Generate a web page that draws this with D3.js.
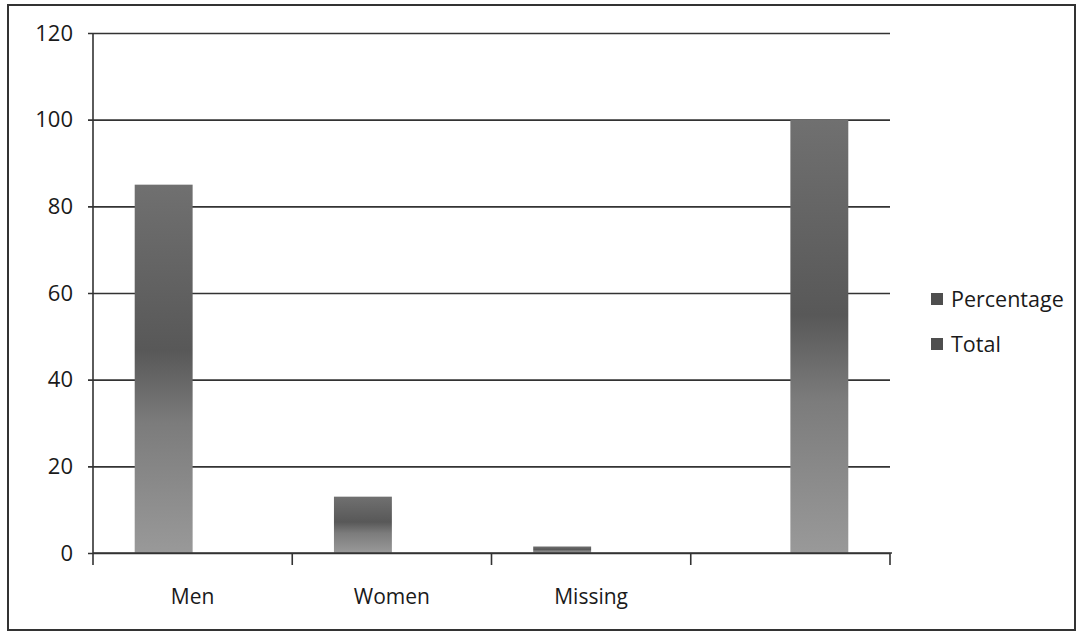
<!DOCTYPE html>
<html>
<head>
    <meta charset="utf-8">
    <script src="https://d3js.org/d3.v7.min.js"></script>
    <style>
        body, html { margin: 0; padding: 0; background: #fff; }
        svg { display: block; }
        text { font-family: "Open Sans", sans-serif; fill: #1a1a1a; }
    </style>
</head>
<body>
    <svg width="1080" height="636"></svg>
    <script>
        // chart data
        const categories = ["Men", "Women", "Missing", ""];
        const seriesNames = ["Percentage", "Total"];
        const percentage = [85, 13, 1.5, null];
        const total = [null, null, null, 100];
        const yTicks = [0, 20, 40, 60, 80, 100, 120];

        const svg = d3.select("svg");
        const margin = {left: 93, right: 190, top: 33, bottom: 83};
        const width = 1080 - margin.left - margin.right;
        const height = 636 - margin.top - margin.bottom;

        // scanned-paper look: gray bars darker in the middle
        const defs = svg.append("defs");
        const grad = defs.append("linearGradient")
            .attr("id", "barFill")
            .attr("x1", 0).attr("y1", 0).attr("x2", 0).attr("y2", 1);
        grad.append("stop").attr("offset", "0%").attr("stop-color", "#707070");
        grad.append("stop").attr("offset", "45%").attr("stop-color", "#585858");
        grad.append("stop").attr("offset", "65%").attr("stop-color", "#7c7c7c");
        grad.append("stop").attr("offset", "100%").attr("stop-color", "#999");

        // outer frame
        svg.append("rect")
            .attr("x", 8).attr("y", 5)
            .attr("width", 1067).attr("height", 625)
            .attr("fill", "none")
            .attr("stroke", "#333")
            .attr("stroke-width", 2);

        const g = svg.append("g").attr("transform", `translate(${margin.left},${margin.top})`);

        const x = d3.scaleBand().domain(d3.range(categories.length)).range([0, width]);
        const xSeries = d3.scaleBand().domain(seriesNames).range([0, x.bandwidth()])
            .paddingInner(0).paddingOuter(0.72);
        const y = d3.scaleLinear().domain([0, 120]).range([height, 0]);

        // gridlines + y axis
        const yAxis = g.append("g")
            .call(d3.axisLeft(y).tickValues(yTicks).tickSize(-width).tickPadding(20).tickSizeOuter(0));
        yAxis.select(".domain").remove();
        yAxis.selectAll("line").attr("stroke", "#333").attr("stroke-width", 1.6).attr("x1", -5);
        yAxis.selectAll("text").attr("font-size", 22).attr("font-family", "Open Sans, sans-serif").attr("fill", "#1a1a1a");

        g.append("line")
            .attr("x1", 0).attr("x2", 0).attr("y1", 0).attr("y2", height)
            .attr("stroke", "#333").attr("stroke-width", 1.6);

        // bars
        const rows = categories.map((c, i) => ({i, values: [percentage[i], total[i]]}));
        g.selectAll(".cat")
            .data(rows)
            .join("g")
            .attr("transform", d => `translate(${x(d.i)},0)`)
            .selectAll("rect")
            .data(d => d.values.map((v, k) => ({key: seriesNames[k], v})).filter(e => e.v != null))
            .join("rect")
            .attr("x", d => xSeries(d.key))
            .attr("width", xSeries.bandwidth())
            .attr("y", d => y(d.v))
            .attr("height", d => y(0) - y(d.v))
            .attr("fill", "url(#barFill)");

        // x axis
        const xAxis = g.append("g").attr("transform", `translate(0,${height})`);
        xAxis.append("line").attr("x1", 0).attr("x2", width + 2)
            .attr("stroke", "#333").attr("stroke-width", 1.6);
        xAxis.selectAll(".tick")
            .data(d3.range(categories.length + 1))
            .join("line")
            .attr("x1", d => d * x.step()).attr("x2", d => d * x.step())
            .attr("y1", 0).attr("y2", 12)
            .attr("stroke", "#333").attr("stroke-width", 1.6);
        xAxis.selectAll(".lbl")
            .data(categories)
            .join("text")
            .attr("x", (d, i) => x(i) + x.bandwidth() / 2)
            .attr("y", 51)
            .attr("text-anchor", "middle")
            .attr("font-size", 21)
            .text(d => d);

        // legend
        const legend = svg.append("g").attr("transform", "translate(931,299)");
        const item = legend.selectAll("g")
            .data(seriesNames)
            .join("g")
            .attr("transform", (d, i) => `translate(0,${i * 45})`);
        item.append("rect")
            .attr("x", 0).attr("y", -6)
            .attr("width", 12).attr("height", 12)
            .attr("fill", "#4e4e4e");
        item.append("text")
            .attr("x", 20).attr("y", 8)
            .attr("font-size", 21.5)
            .text(d => d);
    </script>
</body>
</html>
